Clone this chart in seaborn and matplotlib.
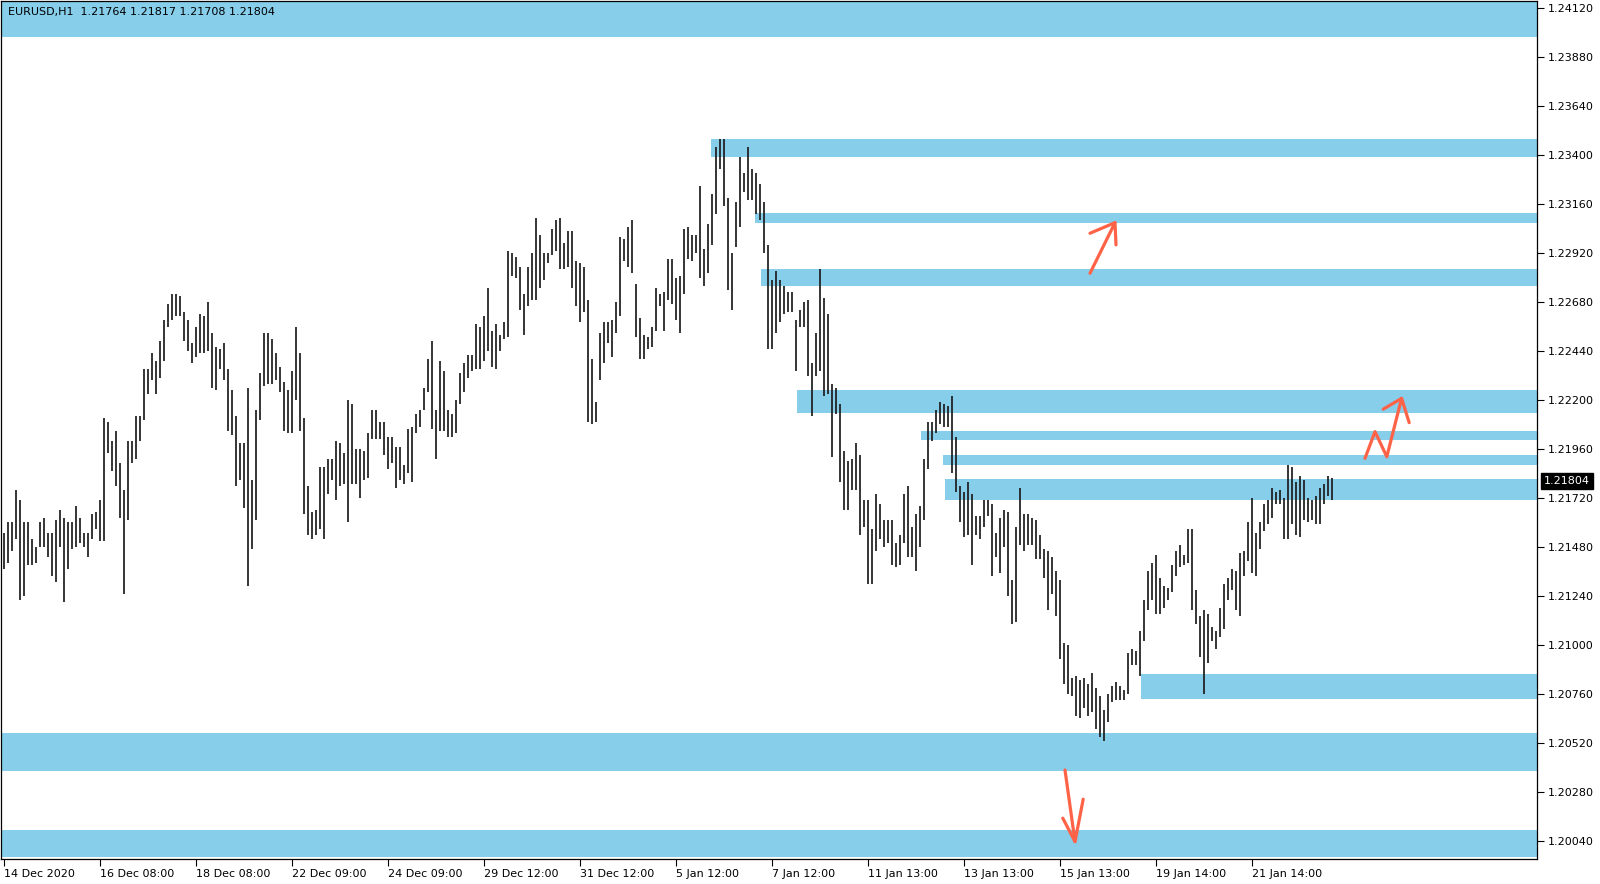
import matplotlib
matplotlib.use("Agg")
import matplotlib.pyplot as plt
import seaborn as sns
import pandas as pd

highs = [
    1.2155, 1.2160, 1.2160, 1.2176, 1.2171, 1.2160, 1.2160, 1.2152, 1.2148, 1.2160, 1.2162, 1.2155,
    1.2155, 1.2161, 1.2166, 1.2162, 1.2160, 1.2160, 1.2168, 1.2162, 1.2155, 1.2155, 1.2164, 1.2165,
    1.2171, 1.2211, 1.2209, 1.2200, 1.2205, 1.2189, 1.2176, 1.2200, 1.2200, 1.2212, 1.2212, 1.2235,
    1.2235, 1.2243, 1.2239, 1.2249, 1.2259, 1.2267, 1.2272, 1.2272, 1.2271, 1.2263, 1.2259, 1.2248,
    1.2256, 1.2262, 1.2261, 1.2268, 1.2253, 1.2246, 1.2245, 1.2248, 1.2235, 1.2225, 1.2212, 1.2199,
    1.2199, 1.2226, 1.2181, 1.2215, 1.2233, 1.2253, 1.2253, 1.2250, 1.2243, 1.2236, 1.2229, 1.2225,
    1.2234, 1.2256, 1.2243, 1.2211, 1.2178, 1.2165, 1.2166, 1.2187, 1.2187, 1.2191, 1.2191, 1.2200,
    1.2199, 1.2194, 1.2220, 1.2218, 1.2196, 1.2196, 1.2195, 1.2204, 1.2215, 1.2215, 1.2209, 1.2209,
    1.2202, 1.2202, 1.2197, 1.2197, 1.2188, 1.2206, 1.2207, 1.2213, 1.2215, 1.2226, 1.2240, 1.2249,
    1.2215, 1.2239, 1.2234, 1.2215, 1.2213, 1.2220, 1.2233, 1.2238, 1.2242, 1.2242, 1.2257, 1.2256,
    1.2261, 1.2275, 1.2254, 1.2257, 1.2252, 1.2258, 1.2293, 1.2292, 1.2290, 1.2285, 1.2272, 1.2285,
    1.2292, 1.2309, 1.2301, 1.2292, 1.2292, 1.2304, 1.2308, 1.2309, 1.2297, 1.2303, 1.2303, 1.2288,
    1.2287, 1.2285, 1.2269, 1.2240, 1.2219, 1.2253, 1.2258, 1.2258, 1.2259, 1.2268, 1.2300, 1.2299,
    1.2305, 1.2308, 1.2277, 1.2260, 1.2252, 1.2251, 1.2256, 1.2275, 1.2272, 1.2273, 1.2289, 1.2289,
    1.2280, 1.2281, 1.2304, 1.2305, 1.2301, 1.2301, 1.2325, 1.2294, 1.2306, 1.2321, 1.2344, 1.2348,
    1.2348, 1.2319, 1.2292, 1.2317, 1.2339, 1.2331, 1.2344, 1.2333, 1.2331, 1.2326, 1.2317, 1.2296,
    1.2279, 1.2283, 1.2279, 1.2276, 1.2273, 1.2273, 1.2259, 1.2264, 1.2268, 1.2269, 1.2238, 1.2253,
    1.2284, 1.2270, 1.2262, 1.2228, 1.2226, 1.2218, 1.2195, 1.2190, 1.2191, 1.2199, 1.2193, 1.2171,
    1.2171, 1.2157, 1.2174, 1.2169, 1.2161, 1.2161, 1.2161, 1.2150, 1.2154, 1.2174, 1.2178, 1.2158,
    1.2164, 1.2168, 1.2191, 1.2209, 1.2209, 1.2215, 1.2219, 1.2218, 1.2217, 1.2222, 1.2202, 1.2178,
    1.2175, 1.2180, 1.2174, 1.2163, 1.2163, 1.2171, 1.2171, 1.2169, 1.2155, 1.2162, 1.2166, 1.2165,
    1.2132, 1.2158, 1.2177, 1.2164, 1.2164, 1.2162, 1.2161, 1.2154, 1.2147, 1.2146, 1.2143, 1.2136,
    1.2132, 1.2101, 1.2100, 1.2084, 1.2085, 1.2083, 1.2084, 1.2081, 1.2086, 1.2079, 1.2075, 1.2068,
    1.2076, 1.2080, 1.2082, 1.2080, 1.2078, 1.2096, 1.2098, 1.2097, 1.2107, 1.2122, 1.2136, 1.2140,
    1.2144, 1.2133, 1.2129, 1.2128, 1.2139, 1.2146, 1.2149, 1.2144, 1.2157, 1.2157, 1.2127, 1.2114,
    1.2117, 1.2115, 1.2109, 1.2107, 1.2118, 1.2130, 1.2133, 1.2137, 1.2136, 1.2145, 1.2146, 1.2160,
    1.2172, 1.2155, 1.2160, 1.2169, 1.2171, 1.2177, 1.2175, 1.2176, 1.2172, 1.2188, 1.2187, 1.2180,
    1.2183, 1.2181, 1.2172, 1.2171, 1.2173, 1.2177, 1.2179, 1.2183, 1.21817,
]
lows = [
    1.2137, 1.2140, 1.2146, 1.2152, 1.2122, 1.2124, 1.2139, 1.2139, 1.2140, 1.2148, 1.2148, 1.2143,
    1.2134, 1.2131, 1.2148, 1.2121, 1.2137, 1.2147, 1.2148, 1.2150, 1.2148, 1.2143, 1.2152, 1.2157,
    1.2151, 1.2151, 1.2194, 1.2185, 1.2178, 1.2162, 1.2125, 1.2161, 1.2189, 1.2191, 1.2200, 1.2210,
    1.2223, 1.2230, 1.2223, 1.2231, 1.2239, 1.2256, 1.2259, 1.2261, 1.2261, 1.2249, 1.2244, 1.2238,
    1.2241, 1.2243, 1.2243, 1.2244, 1.2226, 1.2225, 1.2235, 1.2230, 1.2205, 1.2203, 1.2178, 1.2181,
    1.2167, 1.2129, 1.2147, 1.2161, 1.2210, 1.2227, 1.2228, 1.2228, 1.2230, 1.2224, 1.2205, 1.2204,
    1.2204, 1.2220, 1.2205, 1.2164, 1.2154, 1.2152, 1.2154, 1.2157, 1.2152, 1.2174, 1.2181, 1.2171,
    1.2178, 1.2179, 1.2160, 1.2179, 1.2179, 1.2172, 1.2181, 1.2182, 1.2201, 1.2201, 1.2201, 1.2193,
    1.2186, 1.2189, 1.2177, 1.2181, 1.2179, 1.2184, 1.2180, 1.2204, 1.2207, 1.2215, 1.2224, 1.2206,
    1.2191, 1.2205, 1.2205, 1.2202, 1.2202, 1.2204, 1.2218, 1.2224, 1.2231, 1.2234, 1.2235, 1.2235,
    1.2239, 1.2244, 1.2236, 1.2235, 1.2244, 1.2250, 1.2251, 1.2281, 1.2280, 1.2264, 1.2252, 1.2266,
    1.2269, 1.2269, 1.2275, 1.2279, 1.2287, 1.2291, 1.2293, 1.2284, 1.2284, 1.2285, 1.2275, 1.2266,
    1.2258, 1.2263, 1.2209, 1.2208, 1.2209, 1.2230, 1.2238, 1.2248, 1.2241, 1.2253, 1.2261, 1.2288,
    1.2285, 1.2282, 1.2251, 1.2240, 1.2240, 1.2245, 1.2246, 1.2254, 1.2266, 1.2254, 1.2269, 1.2267,
    1.2259, 1.2253, 1.2272, 1.2289, 1.2288, 1.2292, 1.2280, 1.2276, 1.2282, 1.2296, 1.2311, 1.2333,
    1.2315, 1.2274, 1.2264, 1.2295, 1.2305, 1.2322, 1.2318, 1.2318, 1.2311, 1.2308, 1.2292, 1.2245,
    1.2245, 1.2253, 1.2258, 1.2262, 1.2263, 1.2263, 1.2234, 1.2256, 1.2256, 1.2232, 1.2212, 1.2232,
    1.2234, 1.2222, 1.2223, 1.2192, 1.2213, 1.2180, 1.2166, 1.2166, 1.2176, 1.2176, 1.2154, 1.2158,
    1.2130, 1.2130, 1.2146, 1.2152, 1.2148, 1.2150, 1.2139, 1.2138, 1.2139, 1.2150, 1.2143, 1.2143,
    1.2136, 1.2148, 1.2161, 1.2186, 1.2200, 1.2204, 1.2208, 1.2207, 1.2207, 1.2184, 1.2175, 1.2160,
    1.2153, 1.2154, 1.2139, 1.2154, 1.2152, 1.2158, 1.2163, 1.2134, 1.2143, 1.2135, 1.2148, 1.2124,
    1.2110, 1.2111, 1.2149, 1.2146, 1.2149, 1.2149, 1.2142, 1.2142, 1.2133, 1.2117, 1.2125, 1.2114,
    1.2093, 1.2081, 1.2076, 1.2075, 1.2065, 1.2064, 1.2069, 1.2065, 1.2067, 1.2059, 1.2055, 1.2053,
    1.2062, 1.2072, 1.2073, 1.2073, 1.2073, 1.2076, 1.2090, 1.2090, 1.2085, 1.2102, 1.2117, 1.2122,
    1.2115, 1.2115, 1.2118, 1.2122, 1.2126, 1.2134, 1.2138, 1.2139, 1.2140, 1.2117, 1.2110, 1.2094,
    1.2076, 1.2091, 1.2102, 1.2098, 1.2104, 1.2108, 1.2122, 1.2127, 1.2117, 1.2114, 1.2134, 1.2141,
    1.2135, 1.2134, 1.2147, 1.2156, 1.2159, 1.2162, 1.2169, 1.2169, 1.2152, 1.2152, 1.2159, 1.2154,
    1.2153, 1.2161, 1.2160, 1.2161, 1.2159, 1.2159, 1.2169, 1.2173, 1.21708,
]

# x axis labels (every 48 hours = 24 two-hour bars)
tick_bars = [0, 24, 48, 72, 96, 120, 144, 168, 192, 216, 240, 264, 288, 312]
tick_labels = ["14 Dec 2020", "16 Dec 08:00", "18 Dec 08:00", "22 Dec 09:00", "24 Dec 09:00",
               "29 Dec 12:00", "31 Dec 12:00", "5 Jan 12:00", "7 Jan 12:00", "11 Jan 13:00",
               "13 Jan 13:00", "15 Jan 13:00", "19 Jan 14:00", "21 Jan 14:00"]
price_ticks = [1.20040, 1.20280, 1.20520, 1.20760, 1.21000, 1.21240, 1.21480, 1.21720, 1.21960,
               1.22200, 1.22440, 1.22680, 1.22920, 1.23160, 1.23400, 1.23640, 1.23880, 1.24120]

# support / resistance zones: start bar, lower price, upper price
zone_start = [-1, 176.75, 187.75, 189.25, 198.25, 229.25, 234.75, 235.25, 284.25, -1, -1]
zone_low = [1.2398, 1.2339, 1.23069, 1.2276, 1.22138, 1.22004, 1.21882, 1.2171, 1.20735, 1.20384, 1.1996]
zone_high = [1.2420, 1.2348, 1.23115, 1.22842, 1.22249, 1.22048, 1.21931, 1.21813, 1.20858, 1.20567, 1.20093]

# hand drawn arrows (bar, price)
arrow_up_x = [271.5, 277.75, 278.0]
arrow_up_y = [1.22821, 1.23069, 1.22960]
arrow_up_head_x = [271.5, 277.75]
arrow_up_head_y = [1.23017, 1.23069]
arrow_zz_x = [340.25, 342.75, 345.7, 349.4, 351.3]
arrow_zz_y = [1.21914, 1.22045, 1.21922, 1.22208, 1.22089]
arrow_zz_head_x = [344.8, 349.4]
arrow_zz_head_y = [1.22155, 1.22208]
arrow_dn_x = [265.25, 267.75, 269.8]
arrow_dn_y = [1.20387, 1.20036, 1.20244]
arrow_dn_head_x = [264.7, 267.75]
arrow_dn_head_y = [1.20151, 1.20036]

last_price = 1.21804

df = pd.DataFrame({"high": highs, "low": lows})
df["bar"] = range(len(df))
zones = pd.DataFrame({"start": zone_start, "low": zone_low, "high": zone_high})

sns.set_theme(style="white")
plt.rcParams['font.family'] = ['DejaVu Sans']

x_lo, x_hi = -0.75, 383.25
y_lo, y_hi = 1.19951, 1.24155

fig = plt.figure(figsize=(16, 8.84), dpi=100)
ax = fig.add_axes([1 / 1600, 1 - 859 / 884, 1536 / 1600, 858 / 884])

# zones behind the bars
ax.barh(y=zones["low"], width=x_hi + 5 - zones["start"], left=zones["start"],
        height=zones["high"] - zones["low"], align="edge", color="#87ceeb", linewidth=0, zorder=1)

# price bars
ax.vlines(df["bar"], df["low"], df["high"], color="#1c1c1c", linewidth=1.25, zorder=2)

arrow_color = "#ff6347"
for xs, ys in [(arrow_up_x, arrow_up_y), (arrow_up_head_x, arrow_up_head_y),
               (arrow_zz_x, arrow_zz_y), (arrow_zz_head_x, arrow_zz_head_y),
               (arrow_dn_x, arrow_dn_y), (arrow_dn_head_x, arrow_dn_head_y)]:
    ax.plot(xs, ys, color=arrow_color, linewidth=2.3, solid_capstyle="round",
            solid_joinstyle="round", zorder=4)

ax.set_xlim(x_lo, x_hi)
ax.set_ylim(y_lo, y_hi)

ax.yaxis.tick_right()
ax.set_yticks(price_ticks)
ax.set_yticklabels([f"{p:.5f}" for p in price_ticks])
ax.set_xticks(tick_bars)
ax.set_xticklabels(tick_labels, ha="left")
ax.tick_params(axis="y", right=True, left=False, direction="out", length=5, width=0.8,
               pad=3, labelsize=8, colors="black")
ax.tick_params(axis="x", bottom=True, direction="out", length=5, width=0.8,
               pad=2, labelsize=8, colors="black")
for s in ax.spines.values():
    s.set_visible(True)
    s.set_color("black")
    s.set_linewidth(0.9)
ax.grid(False)

ax.text(0.0045, 0.9866, "EURUSD,H1  1.21764 1.21817 1.21708 1.21804", transform=ax.transAxes,
        fontsize=8, va="center", ha="left", color="black", zorder=5)

ax.text(1.0045, last_price, f"{last_price:.5f}", transform=ax.get_yaxis_transform(),
        fontsize=8, va="center", ha="left", color="white", zorder=6, clip_on=False,
        bbox=dict(facecolor="black", edgecolor="black", boxstyle="square,pad=0.25"))

fig.savefig("out.png", dpi=100)
